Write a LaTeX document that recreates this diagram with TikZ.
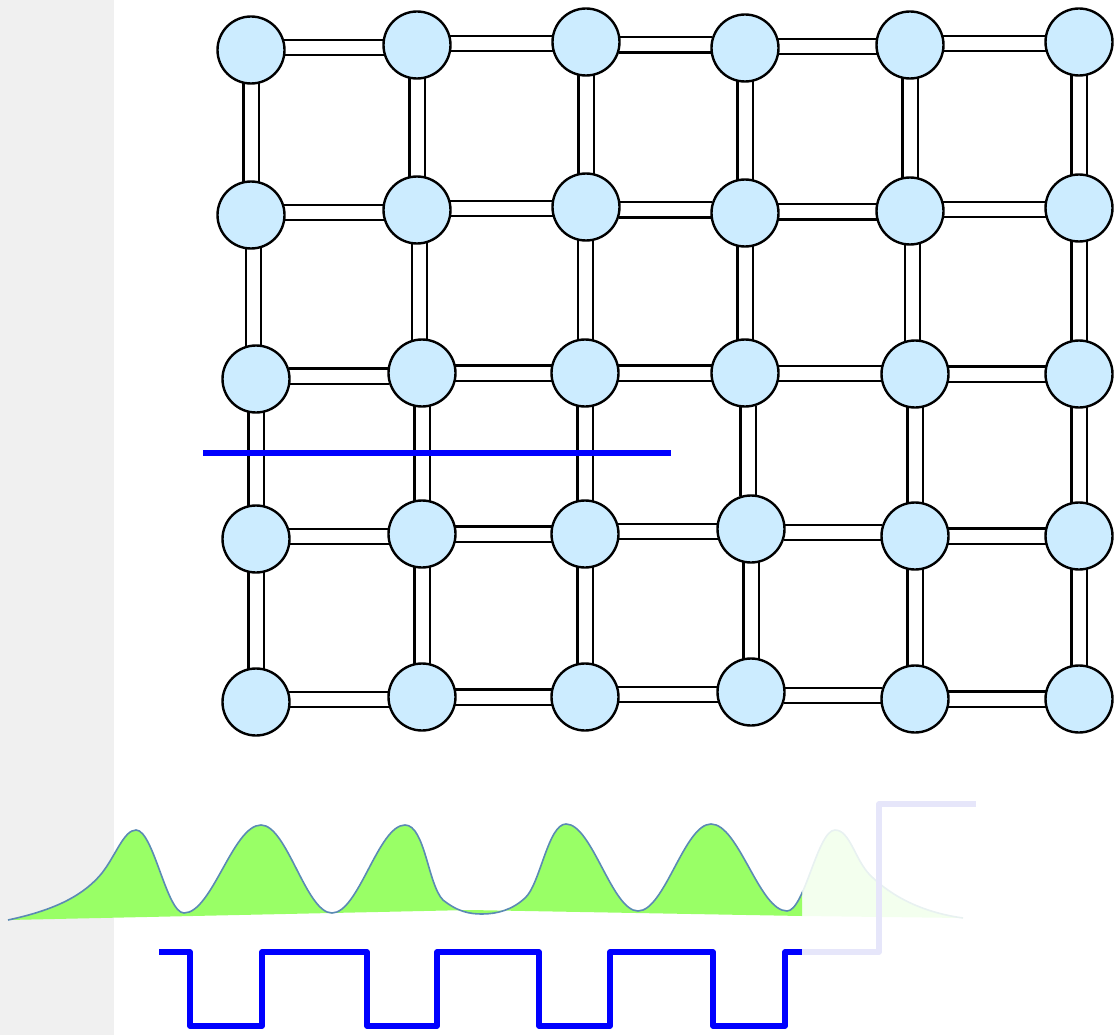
\documentclass[tikz,border=0pt]{standalone}
\usepackage{tikz}
\usetikzlibrary{backgrounds,calc}
\definecolor{colQubit}{RGB}{204,236,255}
\definecolor{colBande}{RGB}{240,240,240}
\definecolor{colOnde}{RGB}{153,255,102}
\definecolor{colTrait}{RGB}{91,138,180}
\definecolor{colOndeP}{RGB}{243,255,238}
\definecolor{colTraitP}{RGB}{232,241,241}
\definecolor{colImpP}{RGB}{230,230,250}
\newcommand{\courbeonde}{(8,920) .. controls (45,912) and (80,900) .. (102,873)
  .. controls (116,855) and (124,830) .. (136,830)
  .. controls (153.5,830) and (166.5,913) .. (184,913)
  .. controls (212,913) and (233,825) .. (261,825)
  .. controls (287,825) and (306,913) .. (332,913)
  .. controls (358.6,913) and (378.4,825) .. (405,825)
  .. controls (425,825) and (428,885) .. (443,900)
  .. controls (458,912) and (470,914) .. (482,914)
  .. controls (497,914) and (512,910) .. (525,898)
  .. controls (540,885) and (548,824) .. (566,824)
  .. controls (592,824) and (612,911) .. (638,911)
  .. controls (664.6,911) and (684.4,824) .. (711,824)
  .. controls (738.7,824) and (759.3,911) .. (787,911)
  .. controls (804.5,911) and (817.5,830) .. (835,830)
  .. controls (850,830) and (855,860) .. (870,875)
  .. controls (890,895) and (920,912) .. (963,918)}

\begin{document}
\begin{tikzpicture}[x=1pt, y=-1pt,
    qb/.style={circle, draw=black, line width=2.4pt, fill=colQubit,
      minimum size=67pt, inner sep=0pt},
    bond/.style={draw=black, line width=2.4pt, double=white, double distance=13pt},
    imp/.style={line width=5.5pt, line join=round}]
  \useasboundingbox (0,0) rectangle (1119,1035);
  \fill[colBande] (0,0) rectangle (114,1035);
  % grille de qubits
  \foreach \x/\y [count=\c] in {251/50,417/45,586/42,745/48,910/45,1079/42}
    \node[qb] (q1\c) at (\x,\y) {};
  \foreach \x/\y [count=\c] in {251/215,417/210,586/207,745/213,910/211,1079/208}
    \node[qb] (q2\c) at (\x,\y) {};
  \foreach \x/\y [count=\c] in {256/379,422/373,585/373,745/373,915/374,1079/374}
    \node[qb] (q3\c) at (\x,\y) {};
  \foreach \x/\y [count=\c] in {256/539,422/534,585/534,751/529,915/536,1079/536}
    \node[qb] (q4\c) at (\x,\y) {};
  \foreach \x/\y [count=\c] in {256/702,422/697,585/697,751/692,915/699,1079/699}
    \node[qb] (q5\c) at (\x,\y) {};
  \begin{scope}[on background layer]
    \foreach \r in {1,...,5}
      \foreach \a/\b in {1/2,2/3,3/4,4/5,5/6}
        \draw[bond] let \p1=(q\r\a), \p2=(q\r\b) in
          (\x1+33pt,{(\y1+\y2)/2}) -- (\x2-33pt,{(\y1+\y2)/2});
    \foreach \c in {1,...,6}
      \foreach \a/\b in {1/2,2/3,3/4,4/5}
        \draw[bond] let \p1=(q\a\c), \p2=(q\b\c) in
          ({(\x1+\x2)/2},\y1-33pt) -- ({(\x1+\x2)/2},\y2+33pt);
  \end{scope}
  \draw[blue, line width=6pt] (203,453) -- (671,453);
  % onde
  \begin{scope}
    \clip (802,780) rectangle (1000,935);
    \fill[colOndeP] \courbeonde -- (802,916) -- (470,910) -- cycle;
    \draw[colTraitP, line width=1.6pt] \courbeonde;
  \end{scope}
  \begin{scope}
    \clip (0,780) rectangle (802,935);
    \fill[colOnde] \courbeonde -- (802,916) -- (470,910) -- cycle;
    \draw[colTrait, line width=1.6pt] \courbeonde;
  \end{scope}
  % impulsions
  \draw[imp, colImpP] (802,952) -- (879,952) -- (879,804) -- (976,804);
  \draw[imp, blue] (159,952) -- (190,952) -- (190,1026) -- (262,1026)
    -- (262,952) -- (367,952) -- (367,1026) -- (437,1026) -- (437,952)
    -- (539,952) -- (539,1026) -- (610,1026) -- (610,952) -- (713,952)
    -- (713,1026) -- (785,1026) -- (785,952) -- (802,952);
\end{tikzpicture}
\end{document}
